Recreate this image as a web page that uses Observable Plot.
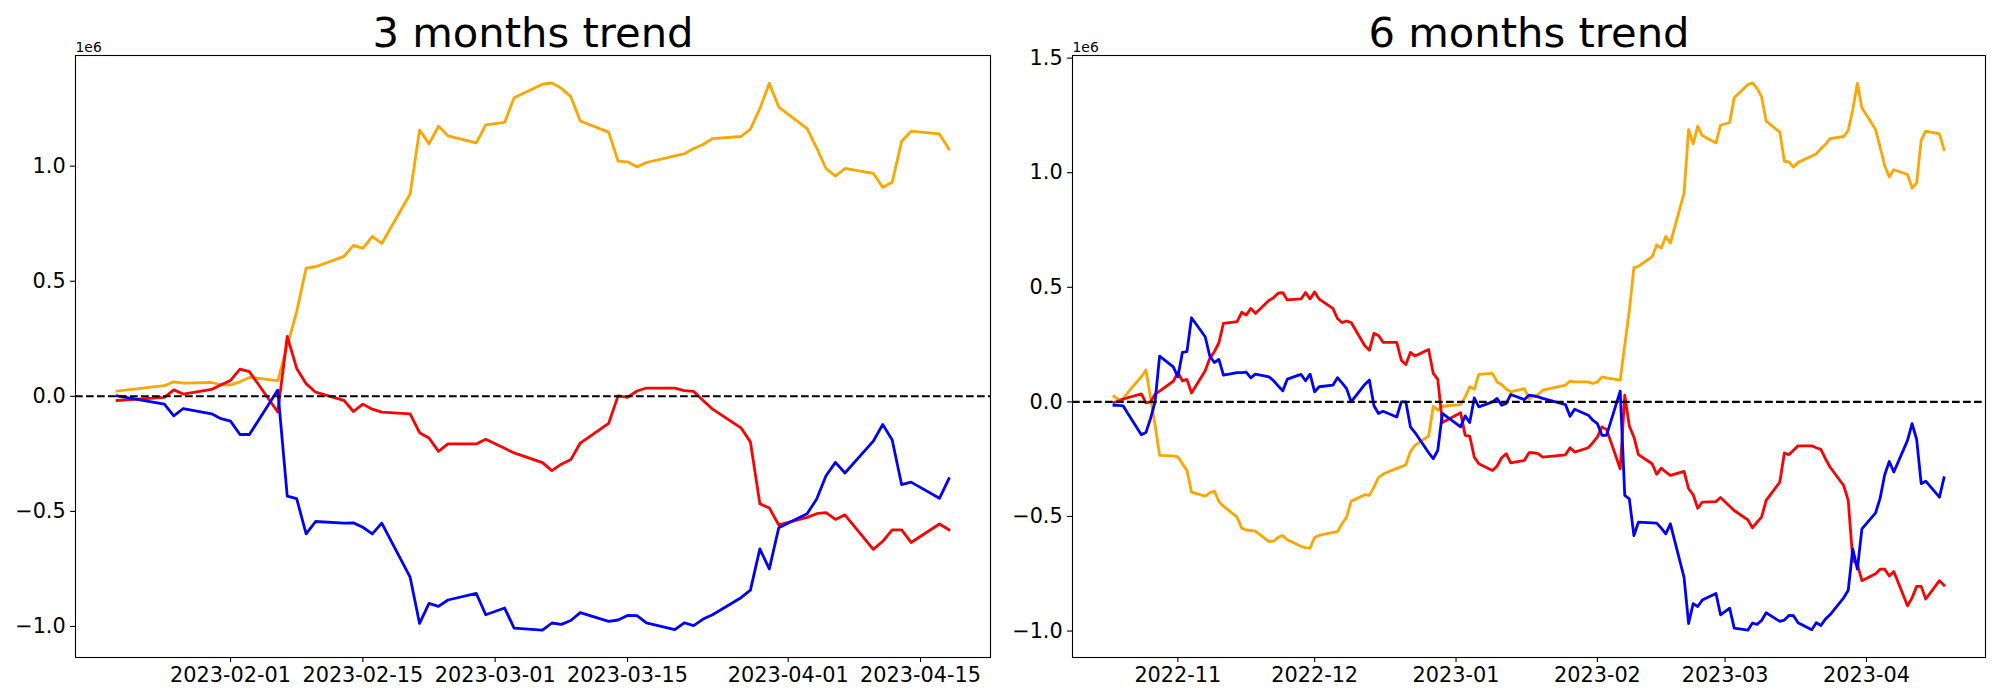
<!DOCTYPE html>
<html>
<head>
<meta charset="utf-8">
<script src="https://cdn.jsdelivr.net/npm/d3@7"></script>
<script src="https://cdn.jsdelivr.net/npm/@observablehq/plot@0.6"></script>
<style>
  html, body { margin: 0; padding: 0; background: #fff; overflow: hidden; }
  #wrap { display: flex; width: 2000px; height: 700px; }
  #wrap svg { display: block; }
</style>
</head>
<body>
<div id="wrap"></div>
<script>
// ---------- 3 months panel (values in units of 1e6) ----------
const dates3m = ["2023-01-20","2023-01-25","2023-01-26","2023-01-27","2023-01-30","2023-01-31",
"2023-02-01","2023-02-02","2023-02-03","2023-02-06","2023-02-07","2023-02-08","2023-02-09","2023-02-10","2023-02-13","2023-02-14","2023-02-15","2023-02-16","2023-02-17","2023-02-20","2023-02-21","2023-02-22","2023-02-23","2023-02-24","2023-02-27","2023-02-28",
"2023-03-02","2023-03-03","2023-03-06","2023-03-07","2023-03-08","2023-03-09","2023-03-10","2023-03-13","2023-03-14","2023-03-15","2023-03-16","2023-03-17","2023-03-20","2023-03-21","2023-03-22","2023-03-23","2023-03-24","2023-03-27","2023-03-28","2023-03-29","2023-03-30","2023-03-31",
"2023-04-03","2023-04-04","2023-04-05","2023-04-06","2023-04-07","2023-04-10","2023-04-11","2023-04-12","2023-04-13","2023-04-14","2023-04-17","2023-04-18"];
const orange3m = [0.023,0.046,0.063,0.057,0.060,0.050,
0.050,0.063,0.082,0.068,0.22,0.368,0.557,0.563,0.608,0.656,0.643,0.695,0.664,0.879,1.157,1.097,1.174,1.132,1.101,1.179,
1.190,1.297,1.356,1.362,1.338,1.302,1.196,1.148,1.022,1.019,0.997,1.016,1.045,1.054,1.077,1.094,1.120,1.129,1.161,1.250,1.360,1.257,
1.163,1.08,0.99,0.957,0.99,0.969,0.908,0.93,1.108,1.152,1.14,1.074];
const red3m = [-0.018,-0.005,0.028,0.010,0.030,0.05,
0.069,0.118,0.107,-0.068,0.260,0.121,0.055,0.018,-0.018,-0.066,-0.034,-0.056,-0.069,-0.076,-0.158,-0.181,-0.239,-0.207,-0.207,-0.187,
-0.226,-0.246,-0.288,-0.323,-0.295,-0.275,-0.203,-0.118,0.002,-0.005,0.023,0.036,0.036,0.025,0.021,-0.018,-0.056,-0.137,-0.198,-0.467,-0.485,-0.559,
-0.526,-0.51,-0.505,-0.535,-0.515,-0.665,-0.63,-0.58,-0.58,-0.635,-0.555,-0.58];
const blue3m = [0.002,-0.034,-0.085,-0.053,-0.076,-0.097,
-0.108,-0.166,-0.166,0.027,-0.434,-0.445,-0.598,-0.544,-0.551,-0.55,-0.569,-0.598,-0.551,-0.786,-0.987,-0.900,-0.913,-0.885,-0.856,-0.949,
-0.920,-1.007,-1.016,-0.985,-0.991,-0.974,-0.940,-0.978,-0.972,-0.952,-0.953,-0.984,-1.014,-0.984,-0.996,-0.968,-0.949,-0.875,-0.842,-0.663,-0.750,-0.571,
-0.51,-0.447,-0.345,-0.287,-0.333,-0.195,-0.122,-0.19,-0.384,-0.373,-0.443,-0.358];
const xTicks3m = ["2023-02-01","2023-02-15","2023-03-01","2023-03-15","2023-04-01","2023-04-15"];
const yTicks3m = [-1.0,-0.5,0.0,0.5,1.0];

// ---------- 6 months panel (values in units of 1e6) ----------
const dates6m = [
"2022-10-18","2022-10-19","2022-10-20","2022-10-21","2022-10-24","2022-10-25","2022-10-26","2022-10-27","2022-10-28","2022-10-31",
"2022-11-01","2022-11-02","2022-11-03","2022-11-04","2022-11-07","2022-11-08","2022-11-09","2022-11-10","2022-11-11","2022-11-14","2022-11-15","2022-11-16","2022-11-17","2022-11-18","2022-11-21","2022-11-22","2022-11-23","2022-11-24","2022-11-25","2022-11-28","2022-11-29","2022-11-30",
"2022-12-01","2022-12-02","2022-12-05","2022-12-06","2022-12-07","2022-12-08","2022-12-09","2022-12-12","2022-12-13","2022-12-14","2022-12-15","2022-12-16","2022-12-19","2022-12-20","2022-12-21","2022-12-22","2022-12-23","2022-12-26","2022-12-27","2022-12-28","2022-12-29",
"2023-01-02","2023-01-03","2023-01-04","2023-01-05","2023-01-06","2023-01-09","2023-01-10","2023-01-11","2023-01-12","2023-01-13","2023-01-16","2023-01-17","2023-01-18","2023-01-19","2023-01-20","2023-01-25","2023-01-26","2023-01-27","2023-01-30","2023-01-31",
"2023-02-01","2023-02-02","2023-02-03","2023-02-06","2023-02-07","2023-02-08","2023-02-09","2023-02-10","2023-02-13","2023-02-14","2023-02-15","2023-02-16","2023-02-17","2023-02-20","2023-02-21","2023-02-22","2023-02-23","2023-02-24","2023-02-27","2023-02-28",
"2023-03-02","2023-03-03","2023-03-06","2023-03-07","2023-03-08","2023-03-09","2023-03-10","2023-03-13","2023-03-14","2023-03-15","2023-03-16","2023-03-17","2023-03-20","2023-03-21","2023-03-22","2023-03-23","2023-03-24","2023-03-27","2023-03-28","2023-03-29","2023-03-30","2023-03-31",
"2023-04-03","2023-04-04","2023-04-05","2023-04-06","2023-04-07","2023-04-10","2023-04-11","2023-04-12","2023-04-13","2023-04-14","2023-04-17","2023-04-18"];
const orange6m = [
0.025,0.010,0.012,0.04,0.11,0.139,0.02,-0.10,-0.233,-0.236,
-0.24,-0.27,-0.299,-0.394,-0.411,-0.397,-0.389,-0.435,-0.455,-0.503,-0.551,-0.559,-0.561,-0.564,-0.610,-0.607,-0.591,-0.583,-0.602,-0.630,-0.637,-0.637,
-0.591,-0.583,-0.569,-0.566,-0.532,-0.503,-0.433,-0.405,-0.408,-0.372,-0.33,-0.315,-0.290,-0.283,-0.274,-0.216,-0.190,-0.149,-0.019,-0.036,-0.019,
-0.012,0.022,0.066,0.056,0.120,0.124,0.087,0.076,0.056,0.044,0.058,0.015,0.025,0.032,0.051,0.073,0.091,0.087,0.087,0.080,
0.087,0.109,0.105,0.095,0.248,0.398,0.586,0.591,0.634,0.685,0.671,0.722,0.693,0.911,1.188,1.126,1.203,1.162,1.130,1.207,
1.219,1.327,1.385,1.392,1.368,1.331,1.225,1.177,1.050,1.047,1.025,1.045,1.073,1.082,1.105,1.123,1.149,1.158,1.185,1.276,1.390,1.283,
1.188,1.111,1.031,0.981,1.013,0.992,0.933,0.955,1.142,1.181,1.169,1.101];
const red6m = [
-0.003,0.003,0.012,0.018,0.035,-0.004,0.0,0.034,0.047,0.090,
0.128,0.092,0.098,0.039,0.136,0.190,0.219,0.258,0.343,0.350,0.391,0.379,0.408,0.386,0.443,0.455,0.474,0.477,0.445,0.449,0.477,0.449,
0.480,0.448,0.408,0.364,0.346,0.353,0.346,0.245,0.225,0.299,0.290,0.260,0.260,0.182,0.163,0.216,0.200,0.229,0.124,0.098,-0.09,
-0.047,-0.146,-0.149,-0.241,-0.27,-0.299,-0.280,-0.244,-0.226,-0.266,-0.255,-0.222,-0.222,-0.226,-0.241,-0.231,-0.200,-0.219,-0.200,-0.178,
-0.153,-0.109,-0.12,-0.292,0.029,-0.105,-0.153,-0.230,-0.27,-0.316,-0.289,-0.306,-0.321,-0.303,-0.379,-0.405,-0.464,-0.437,-0.435,-0.417,
-0.455,-0.474,-0.515,-0.550,-0.525,-0.503,-0.430,-0.350,-0.223,-0.230,-0.211,-0.192,-0.192,-0.200,-0.207,-0.248,-0.284,-0.365,-0.430,-0.69,-0.708,-0.78,
-0.75,-0.73,-0.73,-0.76,-0.74,-0.89,-0.855,-0.805,-0.805,-0.86,-0.78,-0.80];
const blue6m = [
-0.015,-0.015,-0.017,-0.05,-0.143,-0.134,-0.073,0.0,0.200,0.153,
0.109,0.216,0.219,0.367,0.284,0.200,0.172,0.185,0.117,0.128,0.128,0.130,0.105,0.121,0.109,0.092,0.070,0.048,0.099,0.120,0.092,0.121,
0.044,0.066,0.073,0.105,0.083,0.058,0.0,0.076,0.095,-0.017,-0.051,-0.041,-0.066,0.0,0.0,-0.109,-0.134,-0.222,-0.248,-0.211,-0.05,
-0.109,-0.061,-0.09,0.017,-0.022,0.0,0.015,-0.015,-0.007,0.032,0.010,0.029,0.026,0.022,0.015,-0.012,-0.063,-0.032,-0.058,-0.080,
-0.095,-0.146,-0.146,0.047,-0.408,-0.423,-0.583,-0.525,-0.528,-0.529,-0.551,-0.576,-0.532,-0.766,-0.967,-0.880,-0.893,-0.865,-0.836,-0.929,
-0.900,-0.987,-0.996,-0.965,-0.971,-0.954,-0.920,-0.958,-0.952,-0.932,-0.933,-0.964,-0.994,-0.964,-0.976,-0.948,-0.929,-0.855,-0.822,-0.642,-0.73,-0.554,
-0.484,-0.420,-0.318,-0.260,-0.306,-0.168,-0.095,-0.163,-0.357,-0.346,-0.416,-0.331];
const xTicks6m = ["2022-11-01","2022-12-01","2023-01-01","2023-02-01","2023-03-01","2023-04-01"];
const yTicks6m = [-1.0,-0.5,0.0,0.5,1.0,1.5];

const seriesColors = ["orange","red","blue"];
const titles = ["3 months trend","6 months trend"];

function padded(ext, f) {
  const span = ext[1] - ext[0];
  return [ext[0] - span * f, ext[1] + span * f];
}

function panel({dates, series, title, xTicks, xFormat, yTicks, marginLeft, marginRight}) {
  const ds = dates.map(d => new Date(d + "T00:00:00Z"));
  const rows = series.map((vals, i) => vals.map((v, j) => ({date: ds[j], value: v, s: seriesColors[i]})));
  const all = series.flat();
  const xd = padded(d3.extent(ds, d => +d), 0.05).map(t => new Date(t));
  const yd = padded(d3.extent(all), 0.05);
  const xt = xTicks.map(d => new Date(d + "T00:00:00Z"));
  return Plot.plot({
    width: 1000, height: 700,
    marginLeft, marginRight, marginTop: 55, marginBottom: 43,
    style: {fontFamily: "DejaVu Sans", fontSize: "20.8px", background: "white", color: "black", overflow: "visible"},
    x: {type: "utc", domain: xd},
    y: {domain: yd},
    marks: [
      ...rows.map((r, i) => Plot.line(r, {x: "date", y: "value", stroke: seriesColors[i], strokeWidth: 2.8,
        strokeLinejoin: "round", strokeLinecap: "square"})),
      Plot.ruleY([0], {stroke: "black", strokeWidth: 2.08, strokeDasharray: "7.7,3.3"}),
      Plot.frame({stroke: "black", strokeWidth: 1.1}),
      Plot.axisX({ticks: xt, tickFormat: d3.utcFormat(xFormat), tickSize: 4.9, tickPadding: 4.9,
        strokeWidth: 1.1, fontSize: 20.8, label: null}),
      Plot.axisY({ticks: yTicks, tickFormat: d3.format(".1f"), tickSize: 4.9, tickPadding: 4.9,
        strokeWidth: 1.1, fontSize: 20.8, label: null}),
      Plot.text([title], {frameAnchor: "top", dy: -8.3, lineAnchor: "bottom", fontSize: 41.7, fill: "black"}),
      Plot.text(["1e6"], {frameAnchor: "top-left", textAnchor: "start", lineAnchor: "bottom", dy: -4, fontSize: 13.9, fill: "black"})
    ]
  });
}

const wrap = document.getElementById("wrap");
wrap.appendChild(panel({dates: dates3m, series: [orange3m, red3m, blue3m], title: titles[0],
  xTicks: xTicks3m, xFormat: "%Y-%m-%d", yTicks: yTicks3m, marginLeft: 75, marginRight: 10}));
wrap.appendChild(panel({dates: dates6m, series: [orange6m, red6m, blue6m], title: titles[1],
  xTicks: xTicks6m, xFormat: "%Y-%m", yTicks: yTicks6m, marginLeft: 72, marginRight: 15}));
</script>
</body>
</html>
